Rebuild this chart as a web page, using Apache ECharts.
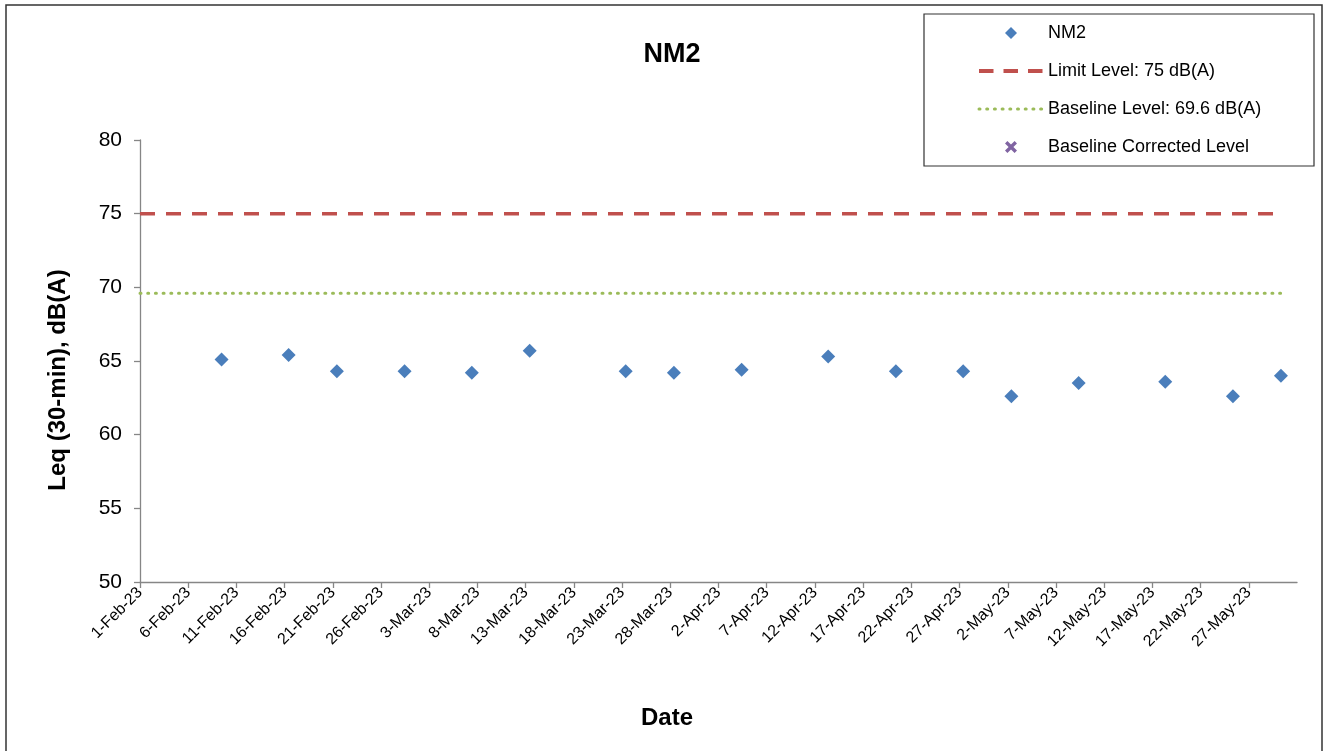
<!DOCTYPE html>
<html>
<head>
<meta charset="utf-8">
<script src="https://cdn.jsdelivr.net/npm/echarts@6/dist/echarts.min.js"></script>
<style>
html,body{margin:0;padding:0;background:#fff;}
#chart{width:1328px;height:751px;}
</style>
</head>
<body>
<div id="chart"></div>
<script>
// ---- data ----
const sampleDates = ['2023-02-09 11:00','2023-02-16 10:00','2023-02-21 10:00','2023-02-28 10:30',
  '2023-03-07 10:00','2023-03-13 10:00','2023-03-23 09:00','2023-03-28 09:00','2023-04-04 09:30',
  '2023-04-13 09:00','2023-04-20 09:30','2023-04-27 09:00','2023-05-02 09:00','2023-05-09 08:30',
  '2023-05-18 08:00','2023-05-25 08:30','2023-05-30 08:00'];
const nm2Values = [65.1, 65.4, 64.3, 64.3, 64.2, 65.7, 64.3, 64.2, 64.4, 65.3, 64.3, 64.3, 62.6, 63.5, 63.6, 62.6, 64.0];
const limitLevel = 75;
const baselineLevel = 69.6;
const levelLineDates = ['2023-02-01 00:00', '2023-05-30 08:00'];
const axisStartDate = '2023-02-01';
const axisEndDate = '2023-06-01';
const yTicks = [50, 55, 60, 65, 70, 75, 80];
const monthNames = ['Jan','Feb','Mar','Apr','May','Jun','Jul','Aug','Sep','Oct','Nov','Dec'];
const legendNames = ['NM2', 'Limit Level: 75 dB(A)', 'Baseline Level: 69.6 dB(A)', 'Baseline Corrected Level'];

// ---- helpers ----
function toUTC(s){
  const [d, t] = s.split(' ');
  const [Y, M, D] = d.split('-').map(Number);
  const [h, m] = (t || '00:00').split(':').map(Number);
  return Date.UTC(Y, M - 1, D, h, m);
}
const t0 = toUTC(axisStartDate);
const DAY = 86400000;
const dayOf = s => (toUTC(s) - t0) / DAY;
const axisMax = dayOf(axisEndDate);

const nm2Data = sampleDates.map((d, i) => [dayOf(d), nm2Values[i]]);
const limitData = levelLineDates.map(d => [dayOf(d), limitLevel]);
const baseData = levelLineDates.map(d => [dayOf(d), baselineLevel]);

const FONT = 'Liberation Sans, Arial, sans-serif';
const XMARK = 'path://M2,0 L5,3 L8,0 L10,2 L7,5 L10,8 L8,10 L5,7 L2,10 L0,8 L3,5 L0,2 Z';
const DIAMOND = 'path://M5,0 L10,5 L5,10 L0,5 Z';
const chart = echarts.init(document.getElementById('chart'), null, {renderer: 'canvas'});

chart.setOption({
  backgroundColor: '#fff',
  animation: false,
  grid: {left: 140, right: 31, top: 140, bottom: 169, containLabel: false},
  xAxis: {
    type: 'value', min: 0, max: axisMax, interval: 5,
    axisLine: {show: true, lineStyle: {color: '#868686', width: 1.3}},
    axisTick: {show: true, length: 6, lineStyle: {color: '#868686', width: 1.3}},
    splitLine: {show: false},
    axisLabel: {
      rotate: 45, margin: 8, fontSize: 16, color: '#000', fontFamily: FONT,
      showMaxLabel: false,
      formatter: v => {
        const d = new Date(t0 + v * DAY);
        return d.getUTCDate() + '-' + monthNames[d.getUTCMonth()] + '-' + String(d.getUTCFullYear()).slice(2);
      }
    }
  },
  yAxis: {
    type: 'value', min: yTicks[0], max: yTicks[yTicks.length - 1], interval: 5,
    axisLine: {show: true, lineStyle: {color: '#868686', width: 1.3}},
    axisTick: {show: true, length: 6, lineStyle: {color: '#868686', width: 1.3}},
    splitLine: {show: false},
    axisLabel: {margin: 18, fontSize: 21, color: '#000', fontFamily: FONT}
  },
  legend: {
    orient: 'vertical', left: 977, top: 24, padding: 0,
    itemWidth: 64, itemHeight: 12, itemGap: 20,
    symbolKeepAspect: true,
    textStyle: {fontSize: 18, color: '#000', fontFamily: FONT, lineHeight: 18},
    data: [
      {name: legendNames[0], icon: DIAMOND, itemStyle: {opacity: 1}},
      {name: legendNames[1], itemStyle: {opacity: 0}, lineStyle: {width: 4, type: [14.5, 10], color: '#C0504D'}},
      {name: legendNames[2], itemStyle: {opacity: 0}, lineStyle: {width: 3, type: [1, 6.7], cap: 'round', color: '#9BBB59'}},
      {name: legendNames[3], icon: XMARK, itemStyle: {opacity: 1}}
    ]
  },
  graphic: [
    {type: 'rect', shape: {x: 6, y: 5, width: 1316, height: 770}, style: {fill: 'none', stroke: '#333', lineWidth: 1.5}, silent: true},
    {type: 'rect', shape: {x: 924, y: 14, width: 390, height: 152}, style: {fill: 'none', stroke: '#333', lineWidth: 1.2}, silent: true},
    {type: 'text', x: 672, y: 55, style: {text: 'NM2', font: 'bold 27px ' + FONT, fill: '#000', textAlign: 'center', textVerticalAlign: 'middle'}},
    {type: 'text', x: 667, y: 718, style: {text: 'Date', font: 'bold 24px ' + FONT, fill: '#000', textAlign: 'center', textVerticalAlign: 'middle'}},
    {type: 'text', x: 58, y: 380, rotation: Math.PI / 2, style: {text: 'Leq (30-min), dB(A)', font: 'bold 24px ' + FONT, fill: '#000', textAlign: 'center', textVerticalAlign: 'middle'}}
  ],
  series: [
    {
      name: legendNames[0], type: 'scatter', data: nm2Data,
      symbol: 'diamond', symbolSize: 14,
      itemStyle: {color: '#4A7EBB', opacity: 1}, z: 5
    },
    {
      name: legendNames[1], type: 'line', data: limitData,
      symbol: 'none', showSymbol: false,
      lineStyle: {color: '#C0504D', width: 3.5, type: [15, 11]},
      itemStyle: {color: '#C0504D'}
    },
    {
      name: legendNames[2], type: 'line', data: baseData,
      symbol: 'none', showSymbol: false,
      lineStyle: {color: '#9BBB59', width: 3, type: [1, 6.7], cap: 'round'},
      itemStyle: {color: '#9BBB59'}
    },
    {
      name: legendNames[3], type: 'scatter', data: [],
      symbol: XMARK, symbolSize: 10,
      itemStyle: {color: '#8064A2', opacity: 1}
    }
  ]
});
</script>
</body>
</html>
